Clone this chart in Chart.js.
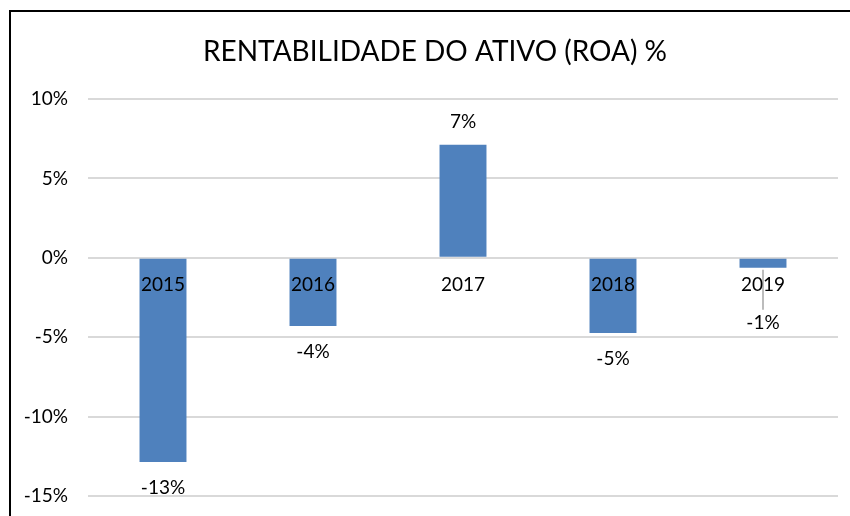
<!DOCTYPE html>
<html>
<head>
<meta charset="utf-8">
<script src="https://cdn.jsdelivr.net/npm/chart.js@4.4.1/dist/chart.umd.min.js"></script>
<style>
  html, body { margin: 0; padding: 0; background: #ffffff; overflow: hidden; }
  #wrap { position: relative; width: 850px; height: 516px; }
  #frame { position: absolute; left: 9px; top: 10px; width: 900px; height: 600px; border: 2px solid #000; box-sizing: border-box; }
  canvas { position: absolute; left: 0; top: 0; }
</style>
</head>
<body>
<div id="wrap">
  <div id="frame"></div>
  <canvas id="c" width="850" height="516"></canvas>
</div>
<script>
const titleText = 'RENTABILIDADE DO ATIVO (ROA) %';
const years = ['2015', '2016', '2017', '2018', '2019'];
const roaValues = [-12.86, -4.29, 7.12, -4.73, -0.63];
const roaLabels = ['-13%', '-4%', '7%', '-5%', '-1%'];
const yTicks = [10, 5, 0, -5, -10, -15];

const FONT = 'Lato, "Open Sans", sans-serif';

const titlePlugin = {
  id: 'roaTitle',
  afterDraw(chart) {
    const ctx = chart.ctx;
    ctx.save();
    ctx.font = '28px ' + FONT;
    ctx.fillStyle = '#000';
    ctx.textAlign = 'center';
    ctx.textBaseline = 'middle';
    ctx.fillText(titleText, 435, 52);
    ctx.restore();
  }
};

const labelPlugin = {
  id: 'roaLabels',
  afterDatasetsDraw(chart) {
    const ctx = chart.ctx;
    const meta = chart.getDatasetMeta(0);
    const yScale = chart.scales.y;
    ctx.save();
    ctx.font = '19px ' + FONT;
    ctx.fillStyle = '#000';
    ctx.textAlign = 'center';
    ctx.textBaseline = 'middle';
    meta.data.forEach((bar, i) => {
      const v = roaValues[i];
      const x = bar.x;
      let y;
      if (v >= 0) {
        y = bar.y - 23;
      } else {
        y = bar.y + 26;
      }
      // small bar: label pushed below category text with a leader line
      if (Math.abs(yScale.getPixelForValue(v) - yScale.getPixelForValue(0)) < 20) {
        y = bar.y + 55;
        ctx.strokeStyle = '#a6a6a6';
        ctx.lineWidth = 1.5;
        ctx.beginPath();
        ctx.moveTo(x, bar.y + 2);
        ctx.lineTo(x, y - 13);
        ctx.stroke();
      }
      ctx.fillText(roaLabels[i], x, y);
    });
    ctx.restore();
  }
};

new Chart(document.getElementById('c'), {
  type: 'bar',
  data: {
    labels: years,
    datasets: [{
      data: roaValues,
      backgroundColor: '#4f81bd',
      borderWidth: 0,
      barPercentage: 1,
      categoryPercentage: 0.313
    }]
  },
  options: {
    responsive: false,
    animation: false,
    devicePixelRatio: 1,
    layout: { padding: { top: 99, right: 12, bottom: 20, left: 0 } },
    plugins: {
      legend: { display: false },
      tooltip: { enabled: false },
      title: { display: false }
    },
    scales: {
      x: {
        position: { y: 0 },
        afterFit(scale) { scale.height = 0; },
        grid: { display: false, drawTicks: false },
        border: { display: false },
        ticks: {
          z: 1,
          color: '#000',
          font: { family: FONT, size: 19 },
          padding: 16,
          maxRotation: 0
        }
      },
      y: {
        min: -15,
        max: 10,
        afterFit(scale) {
          scale.width = 88;
          scale.paddingTop = 0;
          scale.paddingBottom = 0;
        },
        afterBuildTicks(scale) { scale.ticks = yTicks.map(v => ({ value: v })); },
        grid: { color: '#d9d9d9', lineWidth: 2, drawTicks: false },
        border: { display: false },
        ticks: {
          color: '#000',
          font: { family: FONT, size: 19 },
          padding: 20,
          callback: v => v + '%'
        }
      }
    }
  },
  plugins: [labelPlugin, titlePlugin]
});
</script>
</body>
</html>
